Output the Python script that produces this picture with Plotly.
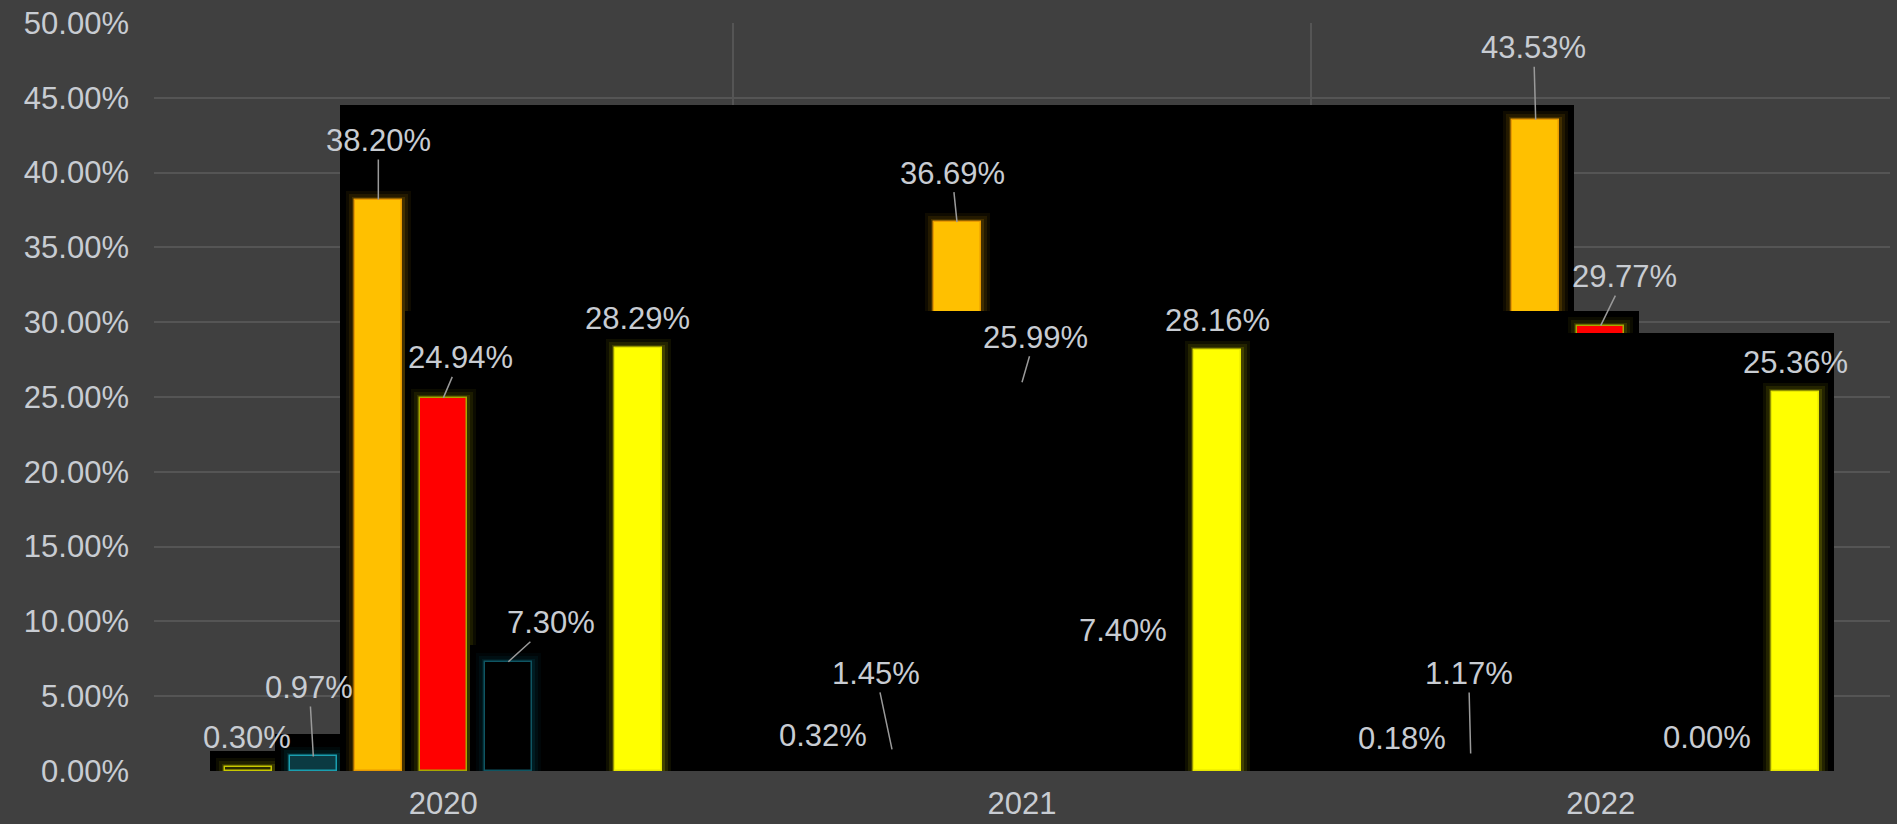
import plotly.graph_objects as go

# ---------------- data ----------------
categories = ["2020", "2021", "2022"]
series_a = [0.30, 0.32, 0.18]      # yellow outline
series_b = [0.97, 1.45, 1.17]      # teal outline
series_c = [38.20, 36.69, 43.53]   # orange
series_d = [24.94, 25.99, 29.77]   # red
series_e = [7.30, 7.40, 0.00]      # dark teal outline
series_f = [None, None, None]      # empty slot
series_g = [28.29, 28.16, 25.36]   # yellow
y_ticks = [0, 5, 10, 15, 20, 25, 30, 35, 40, 45, 50]
y_tick_labels = [f"{v:.2f}%" for v in y_ticks]

all_series = [series_a, series_b, series_c, series_d, series_e, series_f, series_g]

# ---------------- styles / geometry ----------------
W, H = 1897, 824
ML, MR, MT, MB = 154, 7, 23, 53
PX_X = (W - ML - MR) / 3.0          # pixels per category unit
PX_Y = (H - MT - MB) / 50.0         # pixels per percent
SLOT = 65 / PX_X
BARW = 47 / PX_X
PAD = 15                            # shadow spread in px

styles = [
    dict(fill="#2c2c00", line="#c8c800", glow=(220, 220, 0)),
    dict(fill="#0b3a42", line="#1a9fb0", glow=(0, 150, 170)),
    dict(fill="#ffc000", line="#e89a00", glow=(255, 180, 0)),
    dict(fill="#ff0000", line="#a8a800", glow=(200, 200, 0)),
    dict(fill="#000000", line="#0f5562", glow=(0, 110, 130)),
    dict(fill="rgba(0,0,0,0)", line="rgba(0,0,0,0)", glow=(0, 0, 0)),
    dict(fill="#ffff00", line="#e6e600", glow=(255, 255, 0)),
]

# label text-center offsets (px) from the bar top, and whether a leader line shows
label_pos = {
    (0, 0): (-1, -29, False), (1, 0): (-4, -69, True), (2, 0): (0, -59, True),
    (3, 0): (17, -40, True), (4, 0): (43, -39, True), (6, 0): (-1, -29, False),
    (0, 1): (-4, -31, False), (1, 1): (-16, -76, True), (2, 1): (-5, -49, True),
    (3, 1): (13, -45, True), (4, 1): (36, -30, False), (6, 1): (0, -29, False),
    (0, 2): (-4, -30, False), (1, 2): (-2, -80, True), (2, 2): (-2, -72, True),
    (3, 2): (24, -49, True), (4, 2): (41, -34, False), (6, 2): (0, -29, False),
}

FONT = "Arial, Liberation Sans, sans-serif"
TXT = "#c8ccd2"

fig = go.Figure()
annotations = []

for j, vals in enumerate(all_series):
    st = styles[j]
    xs = [i + 0.5 + (j - 3) * SLOT for i in range(len(categories))]
    present = [(x, v) for x, v in zip(xs, vals) if v is not None]
    if not present:
        continue
    # black "shadow" block spanning the whole series
    left = min(x for x, _ in present) - BARW / 2 - PAD / PX_X
    right = max(x for x, _ in present) + BARW / 2 + PAD / PX_X
    top = max(v for _, v in present) + PAD / PX_Y
    fig.add_trace(go.Bar(x=[(left + right) / 2], y=[top], width=[right - left],
                         marker=dict(color="#000000", line=dict(width=0)),
                         hoverinfo="skip", showlegend=False))
    # soft glow layers
    r, g, b = st["glow"]
    for gpx, alpha in [(9, 0.06), (6, 0.09), (3, 0.14)]:
        gx = [x for x, v in present if v > 0]
        gy = [v + gpx / PX_Y for x, v in present if v > 0]
        if gx:
            fig.add_trace(go.Bar(x=gx, y=gy,
                                 width=[BARW + 2 * gpx / PX_X] * len(gx),
                                 marker=dict(color=f"rgba({r},{g},{b},{alpha})", line=dict(width=0)),
                                 hoverinfo="skip", showlegend=False))
    # the bars
    fig.add_trace(go.Bar(x=[x for x, _ in present], y=[v for _, v in present],
                         width=[BARW] * len(present),
                         marker=dict(color=st["fill"], line=dict(color=st["line"], width=1.5)),
                         name=f"S{j+1}", showlegend=False,
                         hovertemplate="%{y:.2f}%<extra></extra>"))
    for i, v in enumerate(vals):
        if v is None:
            continue
        dx, dy, line = label_pos[(j, i)]
        annotations.append(dict(
            x=xs[i], y=v, xref="x", yref="y", text=f"{v:.2f}%",
            showarrow=True, arrowhead=0, arrowwidth=1.5,
            arrowcolor="#9a9a9a" if line else "rgba(0,0,0,0)",
            ax=dx, ay=dy, standoff=0,
            font=dict(family=FONT, size=31, color=TXT),
        ))

fig.update_layout(
    width=W, height=H,
    margin=dict(l=ML, r=MR, t=MT, b=MB, autoexpand=False),
    paper_bgcolor="#404040", plot_bgcolor="#404040",
    barmode="overlay", bargap=0,
    showlegend=False,
    annotations=annotations,
    xaxis=dict(range=[0, 3], tickvals=[0.5, 1.5, 2.5], ticktext=categories,
               showgrid=False, zeroline=False, showline=False, ticks="", automargin=False,
               tickfont=dict(family=FONT, size=31, color=TXT), ticklabelstandoff=11,
               minor=dict(tickvals=[0, 1, 2, 3], showgrid=True, gridcolor="#555555", gridwidth=2, ticks=""),
               fixedrange=True),
    yaxis=dict(range=[0, 50], tickvals=y_ticks, ticktext=y_tick_labels, automargin=False,
               showgrid=True, gridcolor="#555555", gridwidth=2, zeroline=False, showline=False,
               ticks="", tickfont=dict(family=FONT, size=31, color=TXT), ticklabelstandoff=24,
               fixedrange=True),
)

fig.write_html(
    "out.html",
    config={"displayModeBar": False},
    post_script="document.body.style.margin='0';document.body.style.overflow='hidden';"
                "document.body.style.background='#404040';",
)
